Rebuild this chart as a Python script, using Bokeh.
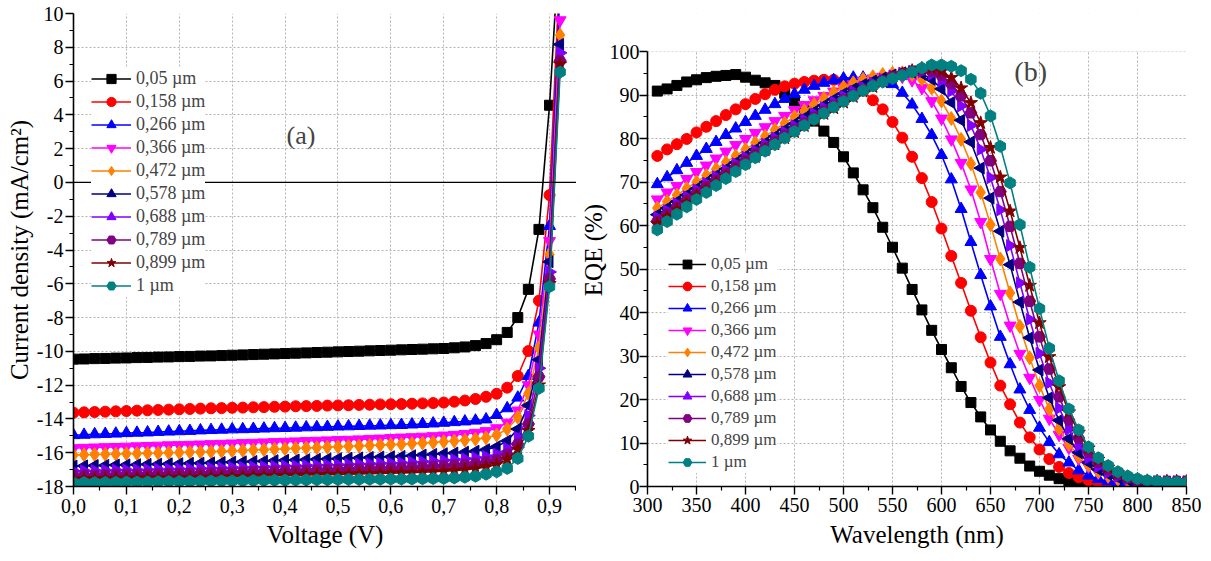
import math
from bokeh.plotting import figure
from bokeh.models import Legend, LegendItem, FixedTicker, Span, Label, Range1d, BoxAnnotation
from bokeh.layouts import row
from bokeh.embed import file_html
from bokeh.resources import INLINE

FONT = "Liberation Serif"

# ---------------- data: J-V curves (panel a) ----------------
voltage = [0.00, 0.02, 0.04, 0.06, 0.08, 0.10, 0.12, 0.14, 0.16, 0.18,
           0.20, 0.22, 0.24, 0.26, 0.28, 0.30, 0.32, 0.34, 0.36, 0.38,
           0.40, 0.42, 0.44, 0.46, 0.48, 0.50, 0.52, 0.54, 0.56, 0.58,
           0.60, 0.62, 0.64, 0.66, 0.68, 0.70, 0.72, 0.74, 0.76, 0.78,
           0.80, 0.82, 0.84, 0.86, 0.88, 0.90, 0.92]

jv_005 = [-10.46, -10.45, -10.43, -10.42, -10.40, -10.39, -10.37, -10.36, -10.34, -10.33,
          -10.31, -10.30, -10.28, -10.27, -10.25, -10.23, -10.21, -10.19, -10.17, -10.15,
          -10.13, -10.11, -10.09, -10.07, -10.05, -10.03, -10.01, -9.99, -9.97, -9.95,
          -9.93, -9.91, -9.89, -9.87, -9.85, -9.83, -9.79, -9.74, -9.66, -9.54,
          -9.31, -8.88, -8.00, -6.33, -2.78, 4.57, 15.0]
jv_0158 = [-13.63, -13.61, -13.59, -13.57, -13.55, -13.53, -13.51, -13.49, -13.47, -13.45,
           -13.43, -13.41, -13.39, -13.37, -13.36, -13.34, -13.33, -13.31, -13.30, -13.28,
           -13.27, -13.25, -13.24, -13.23, -13.21, -13.20, -13.19, -13.17, -13.16, -13.14,
           -13.13, -13.12, -13.10, -13.08, -13.06, -13.03, -12.98, -12.91, -12.82, -12.69,
           -12.51, -12.15, -11.46, -9.98, -7.00, -0.75, 13.0]
jv_0266 = [-14.96, -14.94, -14.91, -14.89, -14.87, -14.84, -14.82, -14.80, -14.77, -14.75,
           -14.73, -14.71, -14.68, -14.66, -14.64, -14.62, -14.61, -14.59, -14.57, -14.55,
           -14.54, -14.52, -14.50, -14.49, -14.47, -14.45, -14.44, -14.42, -14.40, -14.39,
           -14.37, -14.36, -14.33, -14.30, -14.27, -14.23, -14.19, -14.15, -14.10, -14.03,
           -13.77, -13.37, -12.74, -11.46, -8.30, -2.58, 11.5]
jv_0366 = [-15.73, -15.71, -15.69, -15.67, -15.66, -15.64, -15.62, -15.60, -15.58, -15.56,
           -15.55, -15.53, -15.51, -15.49, -15.47, -15.45, -15.43, -15.41, -15.39, -15.37,
           -15.35, -15.33, -15.31, -15.29, -15.27, -15.25, -15.23, -15.21, -15.18, -15.16,
           -15.13, -15.10, -15.08, -15.05, -15.02, -14.98, -14.94, -14.89, -14.82, -14.72,
           -14.55, -14.22, -13.50, -12.00, -9.00, -3.47, 9.6]
jv_0472 = [-16.14, -16.12, -16.11, -16.09, -16.08, -16.06, -16.05, -16.03, -16.02, -16.00,
           -15.99, -15.97, -15.96, -15.94, -15.92, -15.89, -15.87, -15.84, -15.82, -15.79,
           -15.77, -15.74, -15.72, -15.70, -15.67, -15.65, -15.62, -15.60, -15.57, -15.55,
           -15.52, -15.50, -15.46, -15.43, -15.39, -15.35, -15.31, -15.26, -15.20, -15.12,
           -14.95, -14.60, -13.90, -12.50, -9.80, -4.26, 8.72]
jv_0578 = [-16.79, -16.78, -16.76, -16.75, -16.73, -16.72, -16.71, -16.69, -16.68, -16.66,
           -16.65, -16.63, -16.62, -16.60, -16.58, -16.56, -16.54, -16.52, -16.50, -16.47,
           -16.45, -16.43, -16.41, -16.39, -16.37, -16.35, -16.33, -16.31, -16.28, -16.26,
           -16.24, -16.22, -16.18, -16.14, -16.10, -16.06, -16.02, -15.97, -15.91, -15.82,
           -15.65, -15.30, -14.60, -13.20, -10.50, -4.70, 8.17]
jv_0688 = [-17.08, -17.07, -17.06, -17.04, -17.03, -17.02, -17.01, -17.00, -16.98, -16.97,
           -16.96, -16.95, -16.93, -16.92, -16.90, -16.88, -16.87, -16.85, -16.83, -16.81,
           -16.79, -16.78, -16.76, -16.74, -16.72, -16.71, -16.69, -16.67, -16.65, -16.63,
           -16.62, -16.60, -16.56, -16.53, -16.49, -16.45, -16.41, -16.36, -16.30, -16.22,
           -16.08, -15.75, -15.10, -13.80, -11.00, -5.30, 7.67]
jv_0789 = [-17.35, -17.34, -17.33, -17.32, -17.30, -17.29, -17.28, -17.27, -17.26, -17.25,
           -17.23, -17.22, -17.21, -17.20, -17.18, -17.17, -17.15, -17.13, -17.12, -17.10,
           -17.08, -17.07, -17.05, -17.03, -17.02, -17.00, -16.98, -16.97, -16.95, -16.93,
           -16.92, -16.90, -16.87, -16.84, -16.81, -16.78, -16.74, -16.70, -16.64, -16.55,
           -16.42, -16.10, -15.50, -14.30, -11.50, -5.70, 7.20]
jv_0899 = [-17.57, -17.56, -17.55, -17.54, -17.53, -17.52, -17.51, -17.50, -17.50, -17.49,
           -17.48, -17.47, -17.46, -17.45, -17.44, -17.42, -17.41, -17.39, -17.38, -17.37,
           -17.35, -17.34, -17.32, -17.31, -17.30, -17.28, -17.27, -17.25, -17.24, -17.23,
           -17.21, -17.20, -17.18, -17.15, -17.13, -17.10, -17.06, -17.01, -16.94, -16.84,
           -16.70, -16.40, -15.80, -14.70, -12.00, -6.00, 7.00]
jv_1 = [-17.78, -17.77, -17.77, -17.76, -17.75, -17.74, -17.74, -17.73, -17.72, -17.71,
        -17.71, -17.70, -17.69, -17.68, -17.67, -17.67, -17.66, -17.65, -17.64, -17.63,
        -17.63, -17.62, -17.61, -17.60, -17.60, -17.59, -17.58, -17.58, -17.57, -17.57,
        -17.56, -17.56, -17.55, -17.54, -17.53, -17.52, -17.49, -17.45, -17.39, -17.27,
        -17.13, -16.93, -16.34, -15.02, -12.19, -6.17, 6.53]

# ---------------- data: EQE spectra (panel b) ----------------
wavelength = [310, 320, 330, 340, 350, 360, 370, 380, 390, 400,
              410, 420, 430, 440, 450, 460, 470, 480, 490, 500,
              510, 520, 530, 540, 550, 560, 570, 580, 590, 600,
              610, 620, 630, 640, 650, 660, 670, 680, 690, 700,
              710, 720, 730, 740, 750, 760, 770, 780, 790, 800,
              810, 820, 830, 840, 850]

eqe_005 = [90.9, 91.4, 92.2, 93.0, 93.5, 94.0, 94.3, 94.5, 94.7, 94.1,
           93.4, 92.8, 92.2, 90.4, 88.6, 86.4, 84.0, 81.7, 79.1, 75.8,
           72.1, 68.2, 64.1, 59.6, 55.0, 50.2, 45.3, 40.6, 35.9, 31.5,
           27.3, 23.0, 19.3, 16.0, 13.0, 10.4, 8.2, 6.5, 4.7, 3.5,
           2.6, 1.8, 1.2, 0.8, 0.5, 0.3, 0.2, 0.1, 0.1, 0.1,
           0.1, 0.1, 0.1, 0.1, 0.1]
eqe_0158 = [76.0, 77.5, 78.7, 79.9, 81.4, 82.7, 84.0, 85.4, 86.7, 87.9,
            89.1, 90.2, 91.2, 92.0, 92.6, 93.0, 93.3, 93.5, 93.5, 93.2,
            92.5, 91.0, 88.8, 86.7, 83.8, 80.2, 75.8, 70.9, 65.4, 59.3,
            53.0, 46.8, 40.4, 34.3, 28.5, 23.2, 18.9, 14.7, 11.3, 8.5,
            6.3, 4.5, 3.1, 2.1, 1.4, 0.9, 0.6, 0.5, 0.4, 0.3,
            0.3, 0.3, 0.3, 0.3, 0.3]
eqe_0266 = [69.5, 71.1, 72.7, 74.4, 76.0, 77.6, 79.2, 80.8, 82.3, 83.8,
            85.2, 86.6, 87.9, 89.1, 90.2, 91.2, 92.1, 92.8, 93.4, 93.8,
            94.0, 94.0, 93.8, 93.3, 92.5, 90.5, 87.8, 84.5, 80.8, 76.2,
            70.6, 63.8, 56.2, 48.6, 41.4, 34.4, 28.1, 22.3, 17.6, 13.5,
            10.2, 7.4, 5.5, 3.7, 2.5, 1.7, 1.2, 0.9, 0.7, 0.6,
            0.5, 0.5, 0.5, 0.5, 0.5]
eqe_0366 = [66.0, 67.6, 69.1, 70.7, 72.3, 73.8, 75.4, 77.0, 78.5, 79.9,
            81.3, 82.6, 84.0, 85.2, 86.5, 87.7, 88.8, 89.8, 90.8, 91.7,
            92.5, 93.2, 93.8, 94.2, 94.4, 94.2, 93.4, 91.6, 88.6, 84.6,
            79.8, 74.4, 68.3, 60.8, 52.3, 44.3, 37.0, 30.5, 25.0, 19.9,
            15.6, 11.9, 8.9, 6.4, 4.6, 3.2, 2.3, 1.6, 1.2, 1.0,
            0.8, 0.8, 0.8, 0.8, 0.8]
eqe_0472 = [64.0, 65.5, 67.0, 68.5, 70.0, 71.5, 73.0, 74.5, 76.0, 77.5,
            79.0, 80.5, 82.0, 83.5, 85.0, 86.4, 87.8, 89.2, 90.6, 91.8,
            92.8, 93.6, 94.2, 94.7, 95.0, 95.1, 94.7, 93.6, 91.6, 88.6,
            84.6, 79.8, 74.2, 67.6, 60.2, 52.3, 44.5, 36.8, 29.6, 23.2,
            17.8, 13.3, 9.7, 6.9, 4.9, 3.4, 2.4, 1.7, 1.3, 1.0,
            0.9, 0.9, 0.9, 0.9, 0.9]
eqe_0578 = [62.5, 64.0, 65.5, 67.0, 68.5, 70.0, 71.5, 73.0, 74.5, 76.0,
            77.5, 79.0, 80.5, 82.0, 83.4, 84.8, 86.2, 87.6, 89.0, 90.3,
            91.4, 92.4, 93.2, 93.9, 94.6, 95.1, 95.3, 94.9, 93.6, 91.4,
            88.3, 84.2, 79.2, 73.2, 66.3, 58.7, 51.0, 42.4, 34.2, 26.8,
            20.4, 15.2, 11.0, 7.8, 5.5, 3.9, 2.8, 2.0, 1.5, 1.2,
            1.0, 1.0, 1.0, 1.0, 1.0]
eqe_0688 = [61.8, 63.4, 65.0, 66.6, 68.2, 69.7, 71.2, 72.7, 74.2, 75.7,
            77.2, 78.7, 80.1, 81.5, 82.9, 84.3, 85.7, 87.1, 88.4, 89.7,
            90.8, 91.8, 92.7, 93.6, 94.4, 95.0, 95.4, 95.4, 94.8, 93.3,
            90.9, 87.5, 83.0, 77.5, 71.0, 63.6, 55.4, 46.8, 38.4, 30.6,
            23.8, 18.0, 13.2, 9.4, 6.6, 4.6, 3.2, 2.3, 1.7, 1.3,
            1.1, 1.1, 1.1, 1.1, 1.1]
eqe_0789 = [61.0, 62.6, 64.2, 65.8, 67.4, 68.9, 70.4, 71.9, 73.4, 74.9,
            76.4, 77.9, 79.3, 80.7, 82.1, 83.5, 84.9, 86.3, 87.6, 88.9,
            90.1, 91.2, 92.2, 93.2, 94.2, 94.9, 95.5, 95.8, 95.5, 94.5,
            92.6, 89.8, 85.9, 80.9, 74.9, 67.8, 59.8, 51.3, 42.6, 34.4,
            27.0, 20.6, 15.3, 11.1, 7.9, 5.6, 3.9, 2.8, 2.0, 1.5,
            1.2, 1.2, 1.2, 1.2, 1.2]
eqe_0899 = [60.4, 62.0, 63.6, 65.2, 66.8, 68.3, 69.8, 71.3, 72.8, 74.3,
            75.8, 77.3, 78.7, 80.1, 81.5, 82.9, 84.3, 85.7, 87.0, 88.3,
            89.6, 90.8, 91.9, 93.0, 94.0, 94.8, 95.6, 96.1, 96.1, 95.5,
            94.0, 91.6, 88.2, 83.6, 77.9, 71.1, 63.3, 54.9, 46.2, 37.6,
            29.8, 22.9, 17.1, 12.4, 8.8, 6.2, 4.4, 3.1, 2.2, 1.6,
            1.3, 1.2, 1.2, 1.2, 1.2]
eqe_1 = [59.0, 60.9, 62.6, 64.3, 66.0, 67.6, 69.2, 70.8, 72.4, 74.0,
         75.6, 77.1, 78.6, 80.1, 81.6, 83.0, 84.4, 85.8, 87.2, 88.5,
         89.8, 91.0, 92.1, 93.0, 93.8, 94.5, 95.3, 96.2, 96.9, 96.9,
         96.6, 95.6, 93.6, 90.4, 85.2, 78.2, 69.8, 60.2, 50.4, 40.9,
         31.8, 24.3, 17.8, 13.0, 9.1, 6.6, 4.8, 3.4, 2.4, 1.8,
         1.4, 1.2, 1.0, 1.0, 0.9]

series_labels = ["0,05 µm", "0,158 µm", "0,266 µm", "0,366 µm", "0,472 µm",
                 "0,578 µm", "0,688 µm", "0,789 µm", "0,899 µm", "1 µm"]
jv_series = [jv_005, jv_0158, jv_0266, jv_0366, jv_0472,
             jv_0578, jv_0688, jv_0789, jv_0899, jv_1]
eqe_series = [eqe_005, eqe_0158, eqe_0266, eqe_0366, eqe_0472,
              eqe_0578, eqe_0688, eqe_0789, eqe_0899, eqe_1]

# tick values and labels
jv_x_ticks = [0.0, 0.1, 0.2, 0.3, 0.4, 0.5, 0.6, 0.7, 0.8, 0.9]
jv_x_labels = ["0,0", "0,1", "0,2", "0,3", "0,4", "0,5", "0,6", "0,7", "0,8", "0,9"]
jv_x_minor = [0.05, 0.15, 0.25, 0.35, 0.45, 0.55, 0.65, 0.75, 0.85, 0.95]
jv_y_ticks = [-18, -16, -14, -12, -10, -8, -6, -4, -2, 0, 2, 4, 6, 8, 10]
jv_y_labels = ["-18", "-16", "-14", "-12", "-10", "-8", "-6", "-4", "-2", "0", "2", "4", "6", "8", "10"]
jv_y_minor = [-17, -15, -13, -11, -9, -7, -5, -3, -1, 1, 3, 5, 7, 9]
eqe_x_ticks = [300, 350, 400, 450, 500, 550, 600, 650, 700, 750, 800, 850]
eqe_x_labels = ["300", "350", "400", "450", "500", "550", "600", "650", "700", "750", "800", "850"]
eqe_x_minor = [325, 375, 425, 475, 525, 575, 625, 675, 725, 775, 825]
eqe_y_ticks = [0, 10, 20, 30, 40, 50, 60, 70, 80, 90, 100]
eqe_y_labels = ["0", "10", "20", "30", "40", "50", "60", "70", "80", "90", "100"]
eqe_y_minor = [5, 15, 25, 35, 45, 55, 65, 75, 85, 95]

# ---------------- styles ----------------
colors = ["#000000", "#ff0000", "#0000ff", "#ff00ff", "#ff8000",
          "#000080", "#8000ff", "#800080", "#800000", "#008080"]
marker_styles = [("square", 0.0, 10), ("circle", 0.0, 11), ("triangle", 0.0, 12),
                 ("inverted_triangle", 0.0, 12), ("diamond", 0.0, 14),
                 ("triangle", math.pi / 2, 12), ("triangle", -math.pi / 2, 12),
                 ("hex", 0.0, 12), ("star", 0.0, 14), ("hex", math.pi / 2, 12)]


def style_axes(p, xt, xminor, yt, yminor, xover, yover):
    p.xaxis.ticker = FixedTicker(ticks=xt, minor_ticks=xminor)
    p.yaxis.ticker = FixedTicker(ticks=yt, minor_ticks=yminor)
    p.xaxis.major_label_overrides = xover
    p.yaxis.major_label_overrides = yover
    for ax in (p.xaxis[0], p.yaxis[0]):
        ax.axis_line_width = 1.6
        ax.axis_line_color = "black"
        ax.major_tick_out = 8
        ax.major_tick_in = 0
        ax.minor_tick_out = 4
        ax.minor_tick_in = 0
        ax.major_tick_line_width = 1.4
        ax.minor_tick_line_width = 1.2
        ax.major_label_text_font = FONT
        ax.major_label_text_font_size = "20px"
        ax.major_label_text_color = "black"
        ax.axis_label_text_font = FONT
        ax.axis_label_text_font_size = "25px"
        ax.axis_label_text_font_style = "normal"
        ax.axis_label_text_color = "black"
    for g in (p.xgrid[0], p.ygrid[0]):
        g.grid_line_color = "#b4b4b4"
        g.grid_line_dash = "2 2"
        g.grid_line_width = 1
    p.outline_line_color = None


def add_series(p, xs, ys_list):
    items = []
    for i, ys in enumerate(ys_list):
        mk, ang, sz = marker_styles[i]
        c = colors[i]
        ln = p.line(xs, ys, line_color=c, line_width=1.6)
        sc = p.scatter(xs, ys, marker=mk, angle=ang, size=sz,
                       fill_color=c, line_color=c)
        items.append(LegendItem(label=series_labels[i], renderers=[ln, sc]))
    return items


# both panels share the same frame box (row layouts align plot frames)
FRAME_H = 473
TOP = 13
BOTTOM = 68

# ---------------- panel (a) ----------------
pa = figure(title=None, frame_width=503, frame_height=FRAME_H,
            min_border_left=73, min_border_right=0, min_border_top=TOP, min_border_bottom=BOTTOM,
            x_range=Range1d(0, 0.951), y_range=Range1d(-18, 10),
            output_backend="svg", toolbar_location=None)
style_axes(pa, jv_x_ticks, jv_x_minor, jv_y_ticks, jv_y_minor,
           dict(zip(jv_x_ticks, jv_x_labels)), dict(zip(jv_y_ticks, jv_y_labels)))
pa.xaxis.axis_label = "Voltage (V)"
pa.yaxis.axis_label = "Current density (mA/cm²)"
pa.xaxis.major_label_standoff = 4
pa.xaxis.axis_label_standoff = 5
pa.yaxis.major_label_standoff = 2
pa.yaxis.axis_label_standoff = 1
items_a = add_series(pa, voltage, jv_series)
leg_a = Legend(items=items_a, location=(18, 189), padding=5, spacing=0,
               glyph_width=40, glyph_height=23, label_height=20, label_standoff=5,
               label_text_font=FONT, label_text_font_size="18px",
               border_line_color=None, background_fill_color="white", background_fill_alpha=1.0)
pa.add_layout(leg_a)
zero_line = Span(location=0, dimension="width", line_color="black", line_width=1.3)
zero_line.level = "overlay"
pa.add_layout(zero_line)
pa.add_layout(Label(x=0.43, y=2.8, text="(a)", text_font=FONT, text_font_size="26px",
                    text_align="center", text_baseline="middle"))

# ---------------- panel (b) ----------------
pb = figure(title=None, frame_width=539, frame_height=FRAME_H,
            min_border_left=66, min_border_right=15, min_border_top=TOP, min_border_bottom=BOTTOM,
            x_range=Range1d(300, 850), y_range=Range1d(0, 108.74),
            output_backend="svg", toolbar_location=None)
style_axes(pb, eqe_x_ticks, eqe_x_minor, eqe_y_ticks, eqe_y_minor,
           dict(zip(eqe_x_ticks, eqe_x_labels)), dict(zip(eqe_y_ticks, eqe_y_labels)))
pb.yaxis.bounds = (0, 100)
pb.xaxis.axis_label = "Wavelength (nm)"
pb.yaxis.axis_label = "EQE (%)"
pb.xaxis.major_label_standoff = 3
pb.xaxis.axis_label_standoff = 6
pb.yaxis.major_label_standoff = 0
pb.yaxis.axis_label_standoff = 0
# hide the grid above the 100 % line
pb.add_layout(BoxAnnotation(bottom=100, fill_color="white", fill_alpha=1.0,
                            line_color=None, level="underlay"))
items_b = add_series(pb, wavelength, eqe_series)
leg_b = Legend(items=items_b, location=(21, 13), padding=4, spacing=0,
               glyph_width=38, glyph_height=22, label_height=19, label_standoff=5,
               label_text_font=FONT, label_text_font_size="17px",
               border_line_color=None, background_fill_color="white", background_fill_alpha=1.0)
pb.add_layout(leg_b)
pb.add_layout(Label(x=691, y=95.4, text="(b)", text_font=FONT, text_font_size="28px",
                    text_align="center", text_baseline="middle"))

layout = row(pa, pb)
open("out.html", "w").write(file_html(layout, INLINE))
